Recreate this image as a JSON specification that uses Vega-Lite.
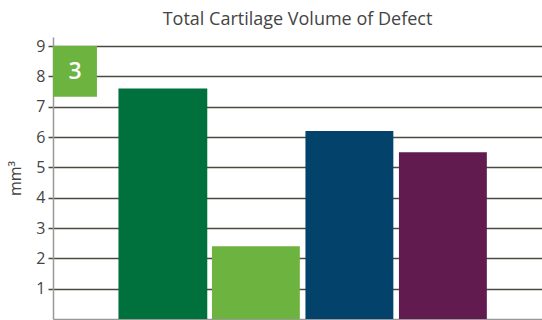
{
  "$schema": "https://vega.github.io/schema/vega-lite/v6.json",
  "width": 489,
  "height": 282,
  "autosize": {"type": "none"},
  "padding": {"left": 53, "top": 37, "right": 0, "bottom": 1},
  "config": {"view": {"stroke": null}, "font": "Open Sans"},
  "title": {"text": "Total Cartilage Volume of Defect", "fontSize": 18, "fontWeight": "normal", "color": "#444444", "offset": 8},
  "datasets": {
    "bars": [
      {"group": "A", "x0": 0.7, "x1": 1.65, "value": 7.6},
      {"group": "B", "x0": 1.7, "x1": 2.64, "value": 2.4},
      {"group": "C", "x0": 2.7, "x1": 3.64, "value": 6.2},
      {"group": "D", "x0": 3.7, "x1": 4.64, "value": 5.5}
    ],
    "badge": [{"label": "3", "x0": 0, "x1": 0.47, "y0": 7.33, "y1": 9, "xm": 0.235, "ym": 8.15}]
  },
  "layer": [
    {
      "data": {"name": "bars"},
      "mark": {"type": "bar", "cornerRadius": 0},
      "encoding": {
        "x": {"field": "x0", "type": "quantitative", "scale": {"domain": [0, 5.23], "nice": false, "zero": false},
              "axis": {"labels": false, "ticks": false, "grid": false, "title": null, "domain": true, "domainColor": "#999999", "domainWidth": 1.5}},
        "x2": {"field": "x1"},
        "y": {"field": "value", "type": "quantitative", "scale": {"domain": [0, 9.3], "nice": false},
              "axis": {"values": [1, 2, 3, 4, 5, 6, 7, 8, 9], "labelOverlap": false, "title": "mm³", "titleFontSize": 16, "titleFontWeight": "normal", "titleColor": "#444444", "titlePadding": 12,
                       "labelFontSize": 16, "labelColor": "#444444", "labelPadding": 3, "tickSize": 5, "tickColor": "#4a4a40", "tickWidth": 1.5,
                       "grid": true, "gridColor": "#4a4a40", "gridWidth": 1.5, "domainColor": "#999999", "domainWidth": 1.5}},
        "y2": {"datum": 0},
        "color": {"field": "group", "type": "nominal", "legend": null,
                  "scale": {"domain": ["A", "B", "C", "D"], "range": ["#00703c", "#6db33f", "#03426a", "#621b4e"]}}
      }
    },
    {
      "data": {"name": "badge"},
      "mark": {"type": "rect", "color": "#6db33f"},
      "encoding": {
        "x": {"field": "x0", "type": "quantitative",
              "axis": {"labels": false, "ticks": false, "grid": false, "title": null, "domain": true, "domainColor": "#999999", "domainWidth": 1.5}},
        "x2": {"field": "x1"},
        "y": {"field": "y0", "type": "quantitative",
              "axis": {"values": [1, 2, 3, 4, 5, 6, 7, 8, 9], "labelOverlap": false, "title": "mm³", "titleFontSize": 16, "titleFontWeight": "normal", "titleColor": "#444444", "titlePadding": 12,
                       "labelFontSize": 16, "labelColor": "#444444", "labelPadding": 3, "tickSize": 5, "tickColor": "#4a4a40", "tickWidth": 1.5,
                       "grid": true, "gridColor": "#4a4a40", "gridWidth": 1.5, "domainColor": "#999999", "domainWidth": 1.5}},
        "y2": {"field": "y1"}
      }
    },
    {
      "data": {"name": "badge"},
      "mark": {"type": "text", "color": "white", "fontSize": 23, "fontWeight": 600, "align": "center", "baseline": "middle"},
      "encoding": {
        "x": {"field": "xm", "type": "quantitative",
              "axis": {"labels": false, "ticks": false, "grid": false, "title": null, "domain": true, "domainColor": "#999999", "domainWidth": 1.5}},
        "y": {"field": "ym", "type": "quantitative",
              "axis": {"values": [1, 2, 3, 4, 5, 6, 7, 8, 9], "labelOverlap": false, "title": "mm³", "titleFontSize": 16, "titleFontWeight": "normal", "titleColor": "#444444", "titlePadding": 12,
                       "labelFontSize": 16, "labelColor": "#444444", "labelPadding": 3, "tickSize": 5, "tickColor": "#4a4a40", "tickWidth": 1.5,
                       "grid": true, "gridColor": "#4a4a40", "gridWidth": 1.5, "domainColor": "#999999", "domainWidth": 1.5}},
        "text": {"field": "label"}
      }
    }
  ]
}
